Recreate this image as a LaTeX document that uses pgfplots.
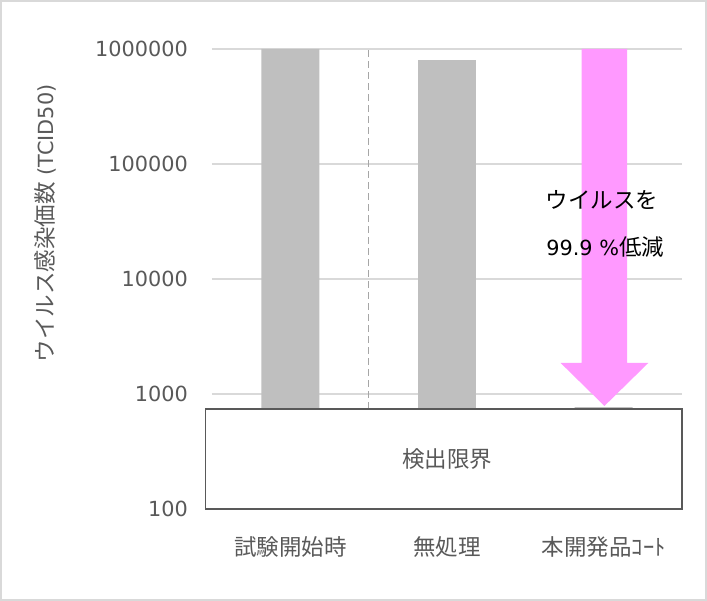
\documentclass[border=0pt]{standalone}
\usepackage{fontspec}
\setmainfont{DejaVu Sans}
\newfontfamily\jp{Noto Sans CJK JP}
\usepackage{pgfplots}
\pgfplotsset{compat=1.18}

\definecolor{barcol}{HTML}{BFBFBF}
\definecolor{arrowcol}{HTML}{FF99FF}
\definecolor{gridcol}{HTML}{D9D9D9}
\definecolor{framecol}{HTML}{D9D9D9}
\definecolor{boxcol}{HTML}{595959}
\definecolor{tickcol}{HTML}{595959}
\definecolor{dashcol}{HTML}{A6A6A6}

\newcommand{\numfont}{\fontsize{20.8}{24}\selectfont}
\newcommand{\jpfont}{\jp\fontsize{22.5}{26}\selectfont}

\begin{document}
\begin{tikzpicture}
\useasboundingbox (0,0) rectangle (707pt,601pt);
\draw[line width=2pt, framecol] (1pt,1pt) rectangle (706pt,600pt);
\begin{axis}[
  at={(212pt,92pt)}, anchor=south west,
  scale only axis,
  width=470pt, height=460pt,
  xmin=-0.5, xmax=2.5,
  ymin=100, ymax=1000000,
  ymode=log, log origin=infty,
  clip=false,
  no markers,
  axis line style={draw=none},
  tick style={draw=none},
  major tick length=0pt,
  ymajorgrids=true,
  grid style={gridcol, line width=1.3pt},
  ytick={100,1000,10000,100000,1000000},
  yticklabels={100,1000,10000,100000,1000000},
  yticklabel style={font=\numfont, text=tickcol, inner sep=0pt, xshift=-24pt, anchor=east},
  xtick={0,1,2},
  xticklabels={試験開始時,無処理,本開発品ｺｰﾄ},
  xticklabel style={font=\jpfont, text=tickcol, inner sep=0pt, anchor=center, yshift=-38pt},
  ylabel={{\jpfont ウイルス感染価数} (TCID50)},
  ylabel style={at={(rel axis cs:-0.355,0.621)}, anchor=center, font=\numfont, text=tickcol},
]

% bars
\addplot[ybar, bar width=0.37, fill=barcol, draw=none] coordinates {(0,1000000) (1,800000) (2,770)};

% separator
\addplot[dashcol, line width=1.4pt, dash pattern=on 7pt off 4pt] coordinates {(0.5,740) (0.5,1000000)};

% detection limit box
\addplot[draw=boxcol, line width=1.5pt, fill=white, line join=miter]
  coordinates {(-0.54,100) (2.5,100) (2.5,740) (-0.54,740) (-0.54,100) (2.5,100)};
\node[font=\jpfont, text=tickcol] at (axis cs:1,272) {検出限界};

% reduction arrow
\addplot[fill=arrowcol, draw=none] coordinates {
  (1.86,1000000) (2.15,1000000) (2.15,1862) (2.285,1862)
  (2.005,787) (1.725,1862) (1.86,1862)};
\node[font=\jpfont, text=black] at (axis cs:1.99,48600) {ウイルスを};
\node[font=\numfont, text=black] at (axis cs:2.01,18970) {99.9 \%{\jpfont 低減}};

\end{axis}
\end{tikzpicture}
\end{document}
